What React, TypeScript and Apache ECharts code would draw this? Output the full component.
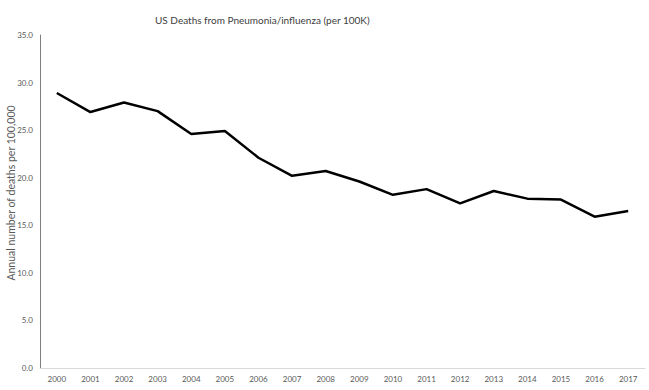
import React, { useEffect, useRef } from "react";
import * as echarts from "echarts";

const years = ["2000","2001","2002","2003","2004","2005","2006","2007","2008","2009","2010","2011","2012","2013","2014","2015","2016","2017"];
const deaths = [28.9, 26.9, 27.9, 27.0, 24.6, 24.9, 22.1, 20.2, 20.7, 19.6, 18.2, 18.8, 17.3, 18.6, 17.8, 17.7, 15.9, 16.5];
const yAxisTitle = "Annual number of deaths per 100,000";

export default function App() {
  const ref = useRef<HTMLDivElement>(null);
  useEffect(() => {
    const chart = echarts.init(ref.current!, null, { renderer: "svg" });
    chart.setOption({
      animation: false,
      backgroundColor: "#ffffff",
      title: {
        text: "US Deaths from Pneumonia/influenza (per 100K)",
        left: 150,
        top: 10,
        textStyle: { fontFamily: "Lato", fontSize: 10, fontWeight: "normal", color: "#404040" },
      },
      graphic: [
        {
          type: "text",
          x: 11,
          y: 193,
          rotation: Math.PI / 2,
          style: {
            text: yAxisTitle,
            fontFamily: "Lato",
            fontSize: 10.5,
            fill: "#595959",
            align: "center",
            verticalAlign: "middle",
          },
        },
      ],
      grid: { left: 40, right: 4, top: 35, bottom: 22 },
      xAxis: {
        type: "category",
        data: years,
        boundaryGap: true,
        axisLine: { lineStyle: { color: "#d9d9d9", width: 1 } },
        axisTick: { show: false },
        axisLabel: { color: "#595959", fontFamily: "Lato", fontSize: 8, margin: 7 },
      },
      yAxis: {
        type: "value",
        min: 0,
        max: 35,
        interval: 5,
        axisLine: { show: true, lineStyle: { color: "#7f7f7f", width: 1 } },
        axisTick: { show: false },
        splitLine: { show: false },
        axisLabel: {
          color: "#595959",
          fontFamily: "Lato",
          fontSize: 8,
          margin: 7,
          formatter: (v: number) => v.toFixed(1),
        },
      },
      series: [
        {
          type: "line",
          data: deaths,
          symbol: "none",
          lineStyle: { color: "#000000", width: 2.5 },
        },
      ],
    });
    return () => chart.dispose();
  }, []);
  return <div ref={ref} style={{ width: 649, height: 390, position: "absolute", left: 0, top: 0 }} />;
}
